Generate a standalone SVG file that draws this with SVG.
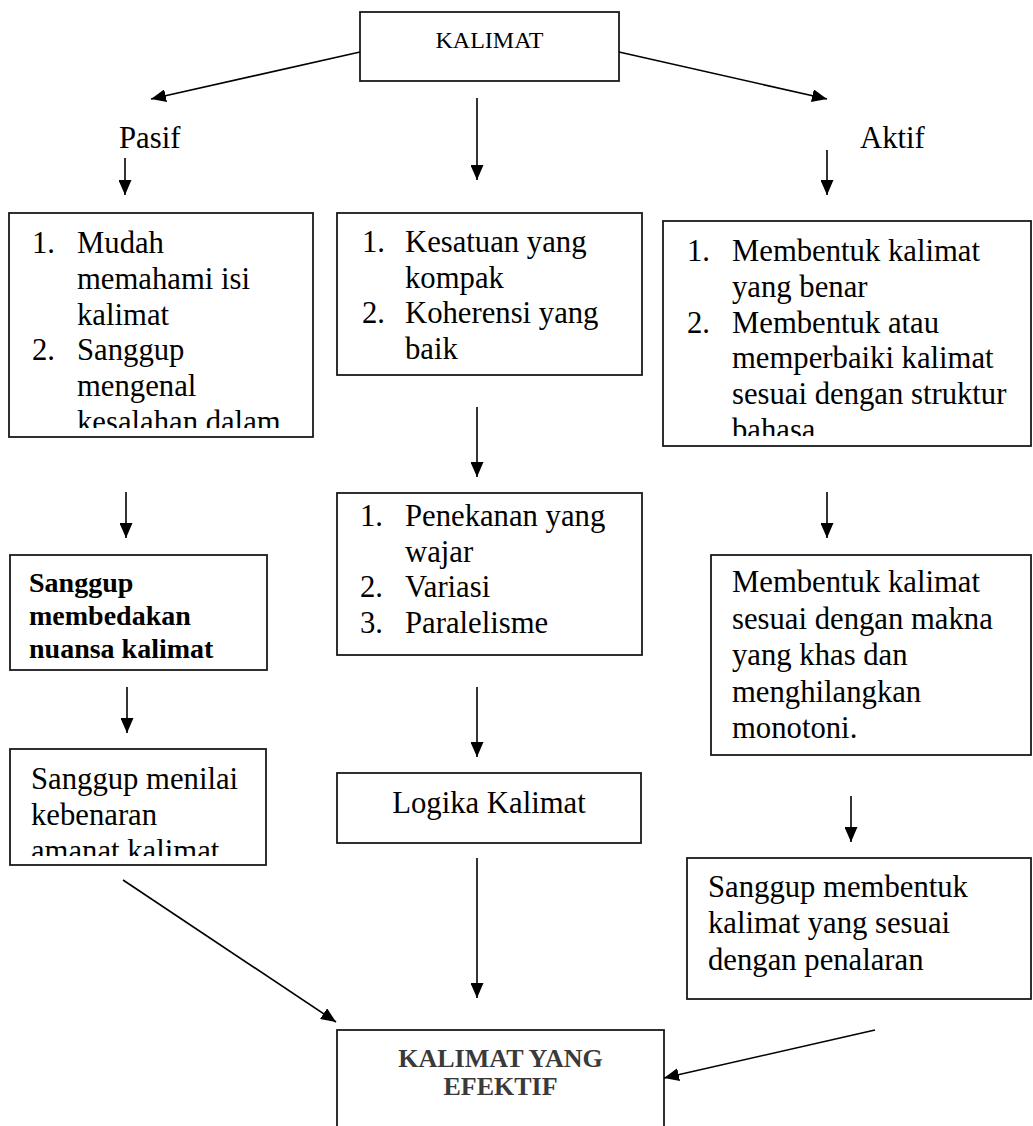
<svg xmlns="http://www.w3.org/2000/svg" width="1033" height="1126" viewBox="0 0 1033 1126">
<style>
.box{fill:#fff;stroke:#1a1a1a;stroke-width:1.8}
.t{font-family:"Liberation Serif","Times New Roman",serif;font-size:30.7px;fill:#000}
.b{font-weight:bold;font-size:28px}
.g{fill:#3a3a3a;font-size:26px}
.c line{stroke:#000;stroke-width:1.6;marker-end:url(#ah)}
</style>
<defs>
<marker id="ah" markerUnits="userSpaceOnUse" markerWidth="15" markerHeight="13" refX="15" refY="6.5" orient="auto">
<path d="M0,0 L15,6.5 L0,13 z" fill="#000"/>
</marker>
<clipPath id="cl1"><rect x="9" y="213" width="304" height="215"/></clipPath>
<clipPath id="cl2"><rect x="663" y="221" width="370" height="215"/></clipPath>
<clipPath id="cl3"><rect x="10" y="749" width="256" height="107"/></clipPath>
</defs>

<g id="n-kalimat">
<rect class="box" x="360" y="12" width="259" height="69"/>
<text class="t" x="489.5" y="48" text-anchor="middle" style="font-size:24px">KALIMAT</text>
</g>

<g id="n-pasif"><text class="t" x="119" y="148">Pasif</text></g>
<g id="n-aktif"><text class="t" x="860" y="148">Aktif</text></g>

<g id="n-left1">
<rect class="box" x="9" y="213" width="304" height="224"/>
<g clip-path="url(#cl1)">
<text class="t" x="32" y="253">1.</text><text class="t" x="77" y="253">Mudah</text>
<text class="t" x="77" y="288.8">memahami isi</text>
<text class="t" x="77" y="324.6">kalimat</text>
<text class="t" x="32" y="360.4">2.</text><text class="t" x="77" y="360.4">Sanggup</text>
<text class="t" x="77" y="396.2">mengenal</text>
<text class="t" x="77" y="432">kesalahan dalam</text>
</g>
</g>

<g id="n-mid1">
<rect class="box" x="337" y="213" width="305" height="162"/>
<text class="t" x="362" y="252">1.</text><text class="t" x="405" y="252">Kesatuan yang</text>
<text class="t" x="405" y="287.5">kompak</text>
<text class="t" x="362" y="323">2.</text><text class="t" x="405" y="323">Koherensi yang</text>
<text class="t" x="405" y="358.5">baik</text>
</g>

<g id="n-right1">
<rect class="box" x="663" y="221" width="368" height="225"/>
<g clip-path="url(#cl2)">
<text class="t" x="687" y="261">1.</text><text class="t" x="732" y="261">Membentuk kalimat</text>
<text class="t" x="732" y="296.8">yang benar</text>
<text class="t" x="687" y="332.6">2.</text><text class="t" x="732" y="332.6">Membentuk atau</text>
<text class="t" x="732" y="368.4">memperbaiki kalimat</text>
<text class="t" x="732" y="404.2">sesuai dengan struktur</text>
<text class="t" x="732" y="440">bahasa</text>
</g>
</g>

<g id="n-left2">
<rect class="box" x="10" y="555" width="257" height="115"/>
<text class="t b" x="29" y="592">Sanggup</text>
<text class="t b" x="29" y="625">membedakan</text>
<text class="t b" x="29" y="658">nuansa kalimat</text>
</g>

<g id="n-mid2">
<rect class="box" x="337" y="493" width="305" height="162"/>
<text class="t" x="360" y="526">1.</text><text class="t" x="405" y="526">Penekanan yang</text>
<text class="t" x="405" y="561.5">wajar</text>
<text class="t" x="360" y="597">2.</text><text class="t" x="405" y="597">Variasi</text>
<text class="t" x="360" y="632.5">3.</text><text class="t" x="405" y="632.5">Paralelisme</text>
</g>

<g id="n-right2">
<rect class="box" x="711" y="555" width="320" height="200"/>
<text class="t" x="732" y="592">Membentuk kalimat</text>
<text class="t" x="732" y="628.5">sesuai dengan makna</text>
<text class="t" x="732" y="665">yang khas dan</text>
<text class="t" x="732" y="701.5">menghilangkan</text>
<text class="t" x="732" y="738">monotoni.</text>
</g>

<g id="n-left3">
<rect class="box" x="10" y="749" width="256" height="116"/>
<g clip-path="url(#cl3)">
<text class="t" x="31" y="789">Sanggup menilai</text>
<text class="t" x="31" y="825">kebenaran</text>
<text class="t" x="31" y="861">amanat kalimat</text>
</g>
</g>

<g id="n-logika">
<rect class="box" x="337" y="773" width="304" height="70"/>
<text class="t" x="489" y="813" text-anchor="middle">Logika Kalimat</text>
</g>

<g id="n-right3">
<rect class="box" x="687" y="858" width="344" height="141"/>
<text class="t" x="708" y="897">Sanggup membentuk</text>
<text class="t" x="708" y="933">kalimat yang sesuai</text>
<text class="t" x="708" y="970">dengan penalaran</text>
</g>

<g id="n-efektif">
<rect class="box" x="337" y="1030" width="327" height="110"/>
<text class="t b g" x="500.5" y="1067" text-anchor="middle">KALIMAT YANG</text>
<text class="t b g" x="500.5" y="1095" text-anchor="middle">EFEKTIF</text>
</g>

<g id="connectors" class="c">
<line x1="360" y1="52" x2="151" y2="99"/>
<line x1="619" y1="52" x2="827" y2="99"/>
<line x1="477" y1="98" x2="477" y2="180"/>
<line x1="125" y1="158" x2="125" y2="195"/>
<line x1="827" y1="150" x2="827" y2="195"/>
<line x1="477" y1="407" x2="477" y2="477"/>
<line x1="126" y1="492" x2="126" y2="538"/>
<line x1="827" y1="492" x2="827" y2="538"/>
<line x1="477" y1="687" x2="477" y2="757"/>
<line x1="127" y1="687" x2="127" y2="733"/>
<line x1="851" y1="796" x2="851" y2="842"/>
<line x1="477" y1="858" x2="477" y2="998"/>
<line x1="123" y1="880" x2="336" y2="1022"/>
<line x1="875" y1="1030" x2="664" y2="1078"/>
</g>
</svg>
